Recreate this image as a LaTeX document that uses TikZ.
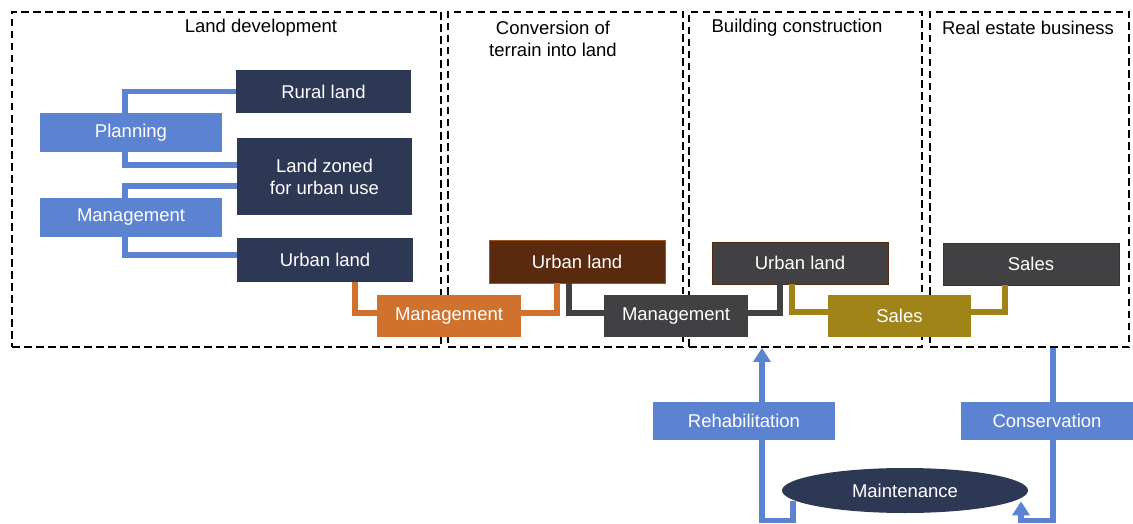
\documentclass[tikz,border=0pt]{standalone}
\usepackage{fontspec}
\setmainfont{Liberation Sans}
\usetikzlibrary{calc,arrows.meta,shapes.geometric}

\definecolor{cBlue}{RGB}{92,131,210}
\definecolor{cNavy}{RGB}{45,56,84}
\definecolor{cOrange}{RGB}{208,114,46}
\definecolor{cBrown}{RGB}{90,42,14}
\definecolor{cGray}{RGB}{65,65,67}
\definecolor{cOlive}{RGB}{160,132,24}

\tikzset{every picture/.style={line width=0.75pt}}
\tikzset{
  txt/.style={font=\fontsize{18.5}{22}\selectfont},
  box/.style={txt, rectangle, inner sep=0pt, text=white, align=center},
  frame/.style={rectangle, draw=black, dash pattern={on 7.5pt off 4.5pt}, line width=1.9pt, inner sep=0pt},
  title/.style={txt, align=center, inner sep=0pt},
  link/.style={line width=5.2pt},
  blueTip/.style={-{Triangle[width=17pt,length=14pt]}}
}

\begin{document}
\begin{tikzpicture}[x=1pt,y=1pt,yscale=-1,xscale=1]
\useasboundingbox (0,0) rectangle (1133,524);

%Shape: Frames
\node[frame, minimum width=429, minimum height=335] (frameA) at (226.5,179.5) {};
\node[frame, minimum width=235, minimum height=335] (frameB) at (565.5,179.5) {};
\node[frame, minimum width=233, minimum height=335] (frameC) at (805.5,179.5) {};
\node[frame, minimum width=199, minimum height=335] (frameD) at (1029.5,179.5) {};

% Text Node
\node[title] (titleA) at (261,28) {Land development};
\node[title] (titleB) at (553,39) {Conversion of\\terrain into land};
\node[title] (titleC) at (797,28) {Building construction};
\node[title] (titleD) at (1028,28) {Real estate business};

%Shape: Boxes of land development
\node[box, fill=cNavy, minimum width=175, minimum height=43] (rural) at (323.5,91.5) {Rural land};
\node[box, fill=cNavy, minimum width=175, minimum height=77] (zoned) at (324.5,176.5) {Land zoned\\for urban use};
\node[box, fill=cNavy, minimum width=176, minimum height=44] (urbanA) at (325,260) {Urban land};
\node[box, fill=cBlue, minimum width=182, minimum height=39] (planning) at (131,132.5) {Planning};
\node[box, fill=cBlue, minimum width=182, minimum height=39] (mgmtA) at (131,217.5) {Management};

%Shape: Boxes of the chain
\node[box, fill=cOrange, minimum width=144, minimum height=42] (mgmtB) at (449,316) {Management};
\node[box, fill=cBrown, draw=cOrange!60!cBrown, line width=0.6pt, minimum width=176, minimum height=43] (urbanB) at (577,261.5) {Urban land};
\node[box, fill=cGray, minimum width=144, minimum height=42] (mgmtC) at (676,316) {Management};
\node[box, fill=cGray, draw=cBrown, line width=0.6pt, minimum width=176, minimum height=42] (urbanC) at (800,263) {Urban land};
\node[box, fill=cOlive, minimum width=143, minimum height=42] (salesA) at (899.5,316) {Sales};
\node[box, fill=cGray, draw=cBrown, line width=0.6pt, minimum width=176, minimum height=42] (salesB) at (1031,264) {Sales};

%Shape: Boxes of maintenance
\node[box, fill=cBlue, minimum width=182, minimum height=38] (rehab) at (744,421) {Rehabilitation};
\node[box, fill=cBlue, minimum width=172, minimum height=38] (conserv) at (1047,421) {Conservation};
\node[box, ellipse, fill=cNavy, minimum width=246, minimum height=45] (maint) at (905,490.5) {Maintenance};

%Straight Lines: planning and management
\draw[link, cBlue] ($(planning.north)+(-6,0)$) |- (rural.west);
\draw[link, cBlue] ($(planning.south)+(-6,0)$) |- ($(zoned.west)+(0,-11.5)$);
\draw[link, cBlue] ($(mgmtA.north)+(-6,0)$) |- ($(zoned.west)+(0,9.5)$);
\draw[link, cBlue] ($(mgmtA.south)+(-6,0)$) |- ($(urbanA.west)+(0,-5)$);

%Straight Lines: the chain
\draw[link, cOrange] ($(urbanA.south)+(30,0)$) |- ($(mgmtB.west)+(0,-3)$);
\draw[link, cOrange] ($(mgmtB.east)+(0,-3)$) -| ($(urbanB.south)+(-20,0)$);
\draw[link, cGray] ($(urbanB.south)+(-8,0)$) |- ($(mgmtC.west)+(0,-3)$);
\draw[link, cGray] ($(mgmtC.east)+(0,-3)$) -| ($(urbanC.south)+(-20,0)$);
\draw[link, cOlive] ($(urbanC.south)+(-8,0)$) |- ($(salesA.west)+(0,-4)$);
\draw[link, cOlive] ($(salesA.east)+(0,-4)$) -| ($(salesB.south)+(-26,0)$);

%Straight Lines: maintenance loop
\coordinate (rehabTop) at ($(rehab.north)+(18,0)$);
\coordinate (rehabBot) at ($(rehab.south)+(18,0)$);
\coordinate (conservTop) at ($(conserv.north)+(6,0)$);
\coordinate (conservBot) at ($(conserv.south)+(6,0)$);
\draw[link, cBlue, blueTip] (rehabTop) -- (rehabTop |- frameC.south);
\draw[link, cBlue] (rehabBot) |- ($(maint.south)+(-112,7)$) -- ($(maint.south)+(-112,-12)$);
\draw[link, cBlue] (conservTop |- frameD.south) -- (conservTop);
\draw[link, cBlue, blueTip] (conservBot) |- ($(maint.south)+(116,7)$) -- ($(maint.south)+(116,-12)$);

\end{tikzpicture}
\end{document}
